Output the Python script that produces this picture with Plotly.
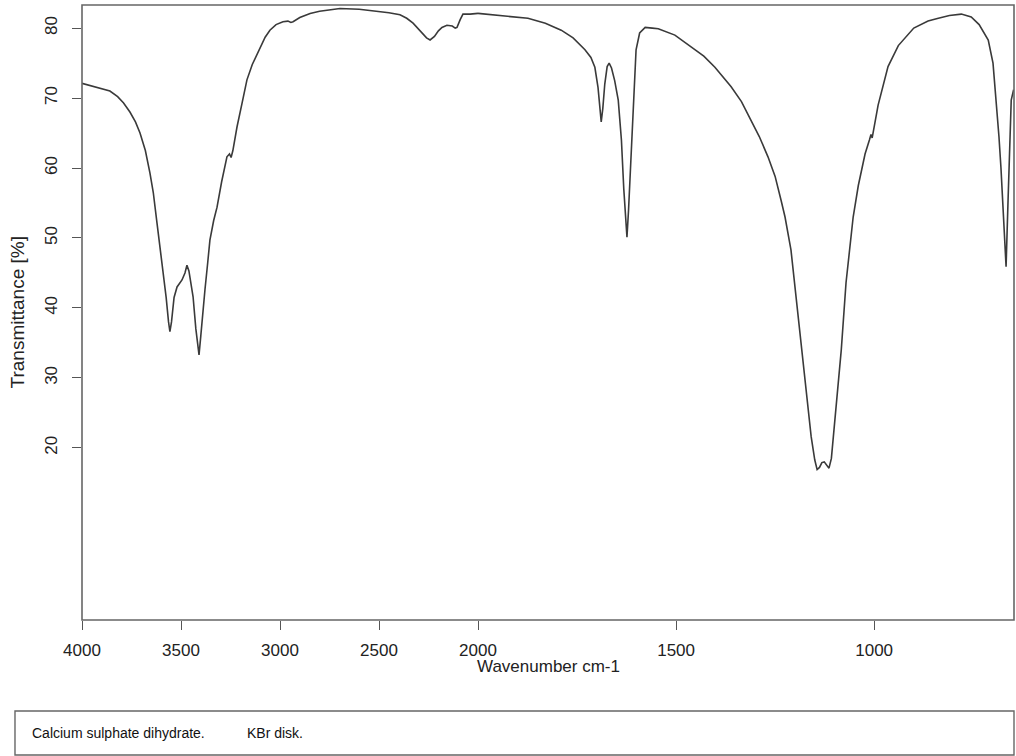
import plotly.graph_objects as go

# Wavenumber (cm-1) and transmittance (%)
wavenumber = [4000, 3950, 3900, 3859, 3820, 3790, 3758, 3730, 3707, 3680, 3657, 3640, 3621, 3605,
              3591, 3575, 3563, 3556, 3548, 3535, 3520, 3495, 3480, 3470, 3460, 3450, 3439, 3425,
              3415, 3409, 3400, 3390, 3379, 3365, 3354, 3335, 3318, 3295, 3268, 3255, 3247, 3238,
              3217, 3190, 3167, 3140, 3101, 3075, 3051, 3020, 2985, 2960, 2945, 2934, 2900, 2848,
              2800, 2697, 2600, 2530, 2450, 2394, 2360, 2328, 2290, 2260, 2242, 2220, 2200, 2182,
              2157, 2130, 2115, 2106, 2090, 2076, 2040, 2000,
              1967, 1920, 1874, 1830, 1790, 1760, 1730, 1715, 1705, 1697, 1692, 1689, 1685, 1680,
              1674, 1669, 1663, 1655, 1646, 1638, 1632, 1627, 1624, 1620, 1616, 1611, 1606, 1601,
              1592, 1578, 1560, 1545, 1503, 1462, 1430, 1402, 1361, 1335, 1311, 1290, 1268, 1250,
              1235, 1225, 1210, 1192, 1174, 1159, 1150, 1144, 1138, 1132, 1126, 1120, 1114, 1108,
              1098, 1083, 1071, 1053, 1040, 1023, 1012, 1008, 1005, 1001, 990, 965, 939, 900, 864,
              838, 810, 780, 755, 735, 712, 700, 692, 685, 680, 674, 667, 662, 658, 654, 648]
transmittance = [72.1, 71.7, 71.3, 71.0, 70.2, 69.3, 68.0, 66.6, 65.0, 62.5, 59.3, 56.5, 52.1, 48.5,
                 45.9, 41.5, 38.0, 36.6, 38.0, 41.5, 43.0, 44.0, 45.0, 46.1, 45.3, 43.5, 41.6, 37.0,
                 34.0, 33.3, 36.0, 39.5, 42.6, 46.5, 49.7, 52.5, 54.4, 58.0, 61.6, 62.0, 61.5, 62.5,
                 65.9, 69.5, 72.6, 74.8, 77.3, 78.7, 79.7, 80.5, 80.9, 81.0, 80.8, 80.9, 81.5, 82.1,
                 82.4, 82.8, 82.7, 82.5, 82.2, 81.9, 81.4, 80.7, 79.5, 78.6, 78.3, 78.8, 79.6, 80.1,
                 80.4, 80.3, 80.0, 80.1, 81.2, 82.0, 82.0, 82.1,
                 81.9, 81.7, 81.4, 80.7, 79.7, 78.6, 76.9, 75.8, 74.4, 71.5, 68.5, 66.6, 68.5, 72.0,
                 74.5, 75.0, 74.3, 72.5, 69.7, 64.0, 57.0, 52.0, 50.1, 54.0, 59.0, 65.0, 71.5, 76.9,
                 79.3, 80.1, 80.0, 79.9, 79.0, 77.3, 76.0, 74.4, 71.6, 69.5, 66.9, 64.5, 61.6, 58.8,
                 55.4, 53.0, 48.3, 38.7, 29.3, 21.6, 18.3, 16.9, 17.2, 17.9, 18.0, 17.5, 17.1, 18.5,
                 24.4, 34.0, 43.6, 53.0, 57.5, 62.0, 64.0, 64.8, 64.3, 65.5, 69.0, 74.5, 77.5, 80.0, 81.0,
                 81.4, 81.8, 82.0, 81.6, 80.5, 78.3, 75.0, 69.7, 64.5, 60.1, 53.0, 45.9, 55.4, 63.0, 69.7, 71.2]

x_ticks_high = [4000, 3500, 3000, 2500, 2000]
x_ticks_low = [1500, 1000]
y_ticks = [20, 30, 40, 50, 60, 70, 80]
split = 2000

hi_x = [w for w in wavenumber if w >= split]
hi_y = [t for w, t in zip(wavenumber, transmittance) if w >= split]
lo_x = [w for w in wavenumber if w <= split]
lo_y = [t for w, t in zip(wavenumber, transmittance) if w <= split]

line = dict(color="#3a3a3a", width=1.6)
fig = go.Figure()
fig.add_trace(go.Scatter(x=hi_x, y=hi_y, mode="lines", line=line, xaxis="x", yaxis="y",
                         showlegend=False, hoverinfo="skip"))
fig.add_trace(go.Scatter(x=lo_x, y=lo_y, mode="lines", line=line, xaxis="x2", yaxis="y",
                         showlegend=False, hoverinfo="skip"))

FONT = "Liberation Sans, Arial, sans-serif"
tickfont = dict(family=FONT, size=17, color="#222")
axis_common = dict(showgrid=False, zeroline=False, showline=False, ticks="outside",
                   ticklen=9, tickwidth=1.2, tickcolor="#555", tickfont=tickfont,
                   automargin=False)

fig.update_layout(
    width=1016, height=756, autosize=False,
    margin=dict(l=82, r=2, t=5, b=136, autoexpand=False),
    paper_bgcolor="white", plot_bgcolor="white",
    showlegend=False,
    xaxis=dict(domain=[0, 0.4249], range=[4000, 2000], tickvals=x_ticks_high,
               anchor="y", ticklabelstandoff=6, **axis_common),
    xaxis2=dict(domain=[0.4249, 1], range=[2000, 647], tickvals=x_ticks_low,
                anchor="y", ticklabelstandoff=6, **axis_common),
    yaxis=dict(range=[-4.6, 83.3], tickvals=y_ticks, tickangle=-90, anchor="x",
               ticklabelstandoff=8, **axis_common),
    shapes=[
        dict(type="rect", xref="paper", yref="paper", x0=0, x1=1, y0=0, y1=1,
             line=dict(color="#666", width=1.6), layer="above"),
        dict(type="rect", xref="paper", yref="paper", x0=-0.0719, x1=1.0, y0=-0.2195, y1=-0.148,
             line=dict(color="#666", width=1.4)),
    ],
    annotations=[
        dict(text="Wavenumber cm-1", xref="paper", yref="paper", x=0.5, y=-0.0748,
             xanchor="center", yanchor="middle", showarrow=False,
             font=dict(family=FONT, size=17, color="#222")),
        dict(text="Transmittance [%]", xref="paper", yref="paper", x=-0.0687, y=0.5,
             xanchor="center", yanchor="middle", textangle=-90, showarrow=False,
             font=dict(family=FONT, size=19, color="#222")),
        dict(text="Calcium sulphate dihydrate.", xref="paper", yref="paper", x=-0.0558, y=-0.1837,
             xanchor="left", yanchor="middle", showarrow=False,
             font=dict(family=FONT, size=14, color="#111")),
        dict(text="KBr disk.", xref="paper", yref="paper", x=(245 - 82) / 932, y=-0.1837,
             xanchor="left", yanchor="middle", showarrow=False,
             font=dict(family=FONT, size=14, color="#111")),
    ],
)

fig.write_html("out.html", config={"responsive": False})
